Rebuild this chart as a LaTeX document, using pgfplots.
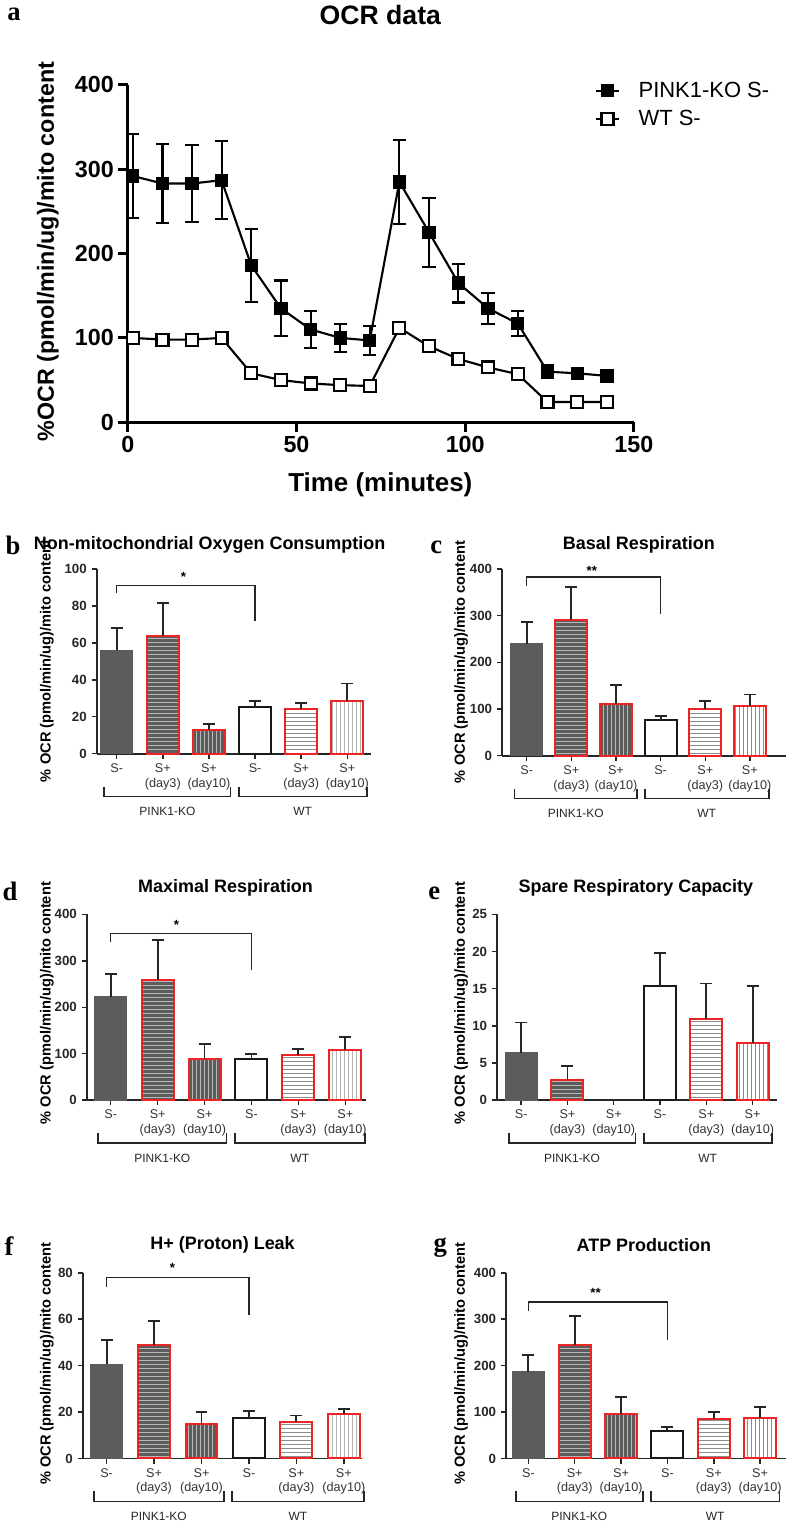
\documentclass[border=0pt]{standalone}
\usepackage{fontspec}
\setmainfont{Liberation Sans}
\newfontfamily\letterfont{Liberation Serif}
\usepackage{pgfplots}
\pgfplotsset{compat=1.18}
\usetikzlibrary{patterns}
\definecolor{kored}{RGB}{240,35,35}
\definecolor{kogray}{RGB}{92,92,92}

\pgfplotsset{
  barax/.style={
    scale only axis, anchor=south west, ymin=0, clip=false,
    axis x line=bottom, axis y line=left,
    axis line style={-, line width=1.3pt, black!85},
    xtick={0,1,2,3,4,5},
    xticklabels={S-, {S+\\(day3)}, {S+\\(day10)}, S-, {S+\\(day3)}, {S+\\(day10)}},
    x tick label style={font=\fontsize{9.5}{11}\selectfont, align=center, text=black!80},
    y tick label style={font=\bfseries\fontsize{10}{12}\selectfont, text=black!85},
    /pgf/number format/assume math mode=true,
    tick align=outside, major tick length=4pt,
    tick style={line width=1.1pt, black!85},
    ybar, bar width=24pt,
  },
  errs/.style={error bars/.cd, y dir=plus, y explicit,
    error bar style={line width=1.4pt, black!85, solid},
    error mark=-,
    error mark options={rotate=90, line width=1.4pt, black!85, mark size=4.5pt}},
  b1/.style={bar shift=0pt, fill=kogray, draw=kogray, line width=1pt, errs},
  b2/.style={bar shift=0pt, draw=kored, line width=1.5pt, pattern=horizontal lines, pattern color=black!28, preaction={fill=kogray}, errs},
  b3/.style={bar shift=0pt, draw=kored, line width=1.5pt, pattern=vertical lines, pattern color=black!28, preaction={fill=kogray}, errs},
  b4/.style={bar shift=0pt, fill=white, draw=black!90, line width=1.5pt, errs},
  b5/.style={bar shift=0pt, draw=kored, line width=1.5pt, pattern=horizontal lines, pattern color=black!45, preaction={fill=white}, errs},
  b6/.style={bar shift=0pt, draw=kored, line width=1.5pt, pattern=vertical lines, pattern color=black!45, preaction={fill=white}, errs},
}

\newcommand{\groupbr}{%
  \draw[line width=1.3pt, black!85] ([yshift=-24.75pt]axis cs:-0.27,0) -- ([yshift=-32.25pt]axis cs:-0.27,0) -- ([yshift=-32.25pt]axis cs:2.47,0) -- ([yshift=-24.75pt]axis cs:2.47,0);
  \draw[line width=1.3pt, black!85] ([yshift=-24.75pt]axis cs:2.65,0) -- ([yshift=-32.25pt]axis cs:2.65,0) -- ([yshift=-32.25pt]axis cs:5.42,0) -- ([yshift=-24.75pt]axis cs:5.42,0);
  \node[font=\fontsize{9}{11}\selectfont, text=black!85] at ([yshift=-43.5pt]axis cs:1.1,0) {PINK1-KO};
  \node[font=\fontsize{9}{11}\selectfont, text=black!85] at ([yshift=-43.5pt]axis cs:4.03,0) {WT};
}

\begin{document}
\begin{tikzpicture}
\begin{scope}[x=0.75pt,y=-0.75pt]
\path[use as bounding box] (0,0) rectangle (790,1525);
% panel letters
\node[font=\letterfont\bfseries\fontsize{20}{24}\selectfont] at (14,14) {a};
\node[font=\letterfont\bfseries\fontsize{20}{24}\selectfont] at (13,546) {b};
\node[font=\letterfont\bfseries\fontsize{20}{24}\selectfont] at (437,548) {c};
\node[font=\letterfont\bfseries\fontsize{20}{24}\selectfont] at (10,893) {d};
\node[font=\letterfont\bfseries\fontsize{20}{24}\selectfont] at (435,895) {e};
\node[font=\letterfont\bfseries\fontsize{20}{24}\selectfont] at (9,1248) {f};
\node[font=\letterfont\bfseries\fontsize{20}{24}\selectfont] at (441,1250) {g};
% panel a texts
\node[font=\bfseries\fontsize{20}{24}\selectfont] at (381,15) {OCR data};
\node[font=\bfseries\fontsize{19.5}{23}\selectfont] at (381,486) {Time (minutes)};
\node[font=\bfseries\fontsize{17.5}{21}\selectfont, rotate=90] at (48,252) {\%OCR (pmol/min/ug)/mito content};
% bar titles
\node[font=\bfseries\fontsize{13.5}{16}\selectfont] at (210,546) {Non-mitochondrial Oxygen Consumption};
\node[font=\bfseries\fontsize{13.5}{16}\selectfont] at (640,546) {Basal Respiration};
\node[font=\bfseries\fontsize{13.5}{16}\selectfont] at (226,889) {Maximal Respiration};
\node[font=\bfseries\fontsize{13.5}{16}\selectfont] at (637,889) {Spare Respiratory Capacity};
\node[font=\bfseries\fontsize{13.5}{16}\selectfont] at (223,1247) {H+ (Proton) Leak};
\node[font=\bfseries\fontsize{13.5}{16}\selectfont] at (645,1247) {ATP Production};
% bar y labels
\node[font=\bfseries\fontsize{11}{13}\selectfont, rotate=90] at (47,662) {\% OCR (pmol/min/ug)/mito content};
\node[font=\bfseries\fontsize{11}{13}\selectfont, rotate=90] at (462,663) {\% OCR (pmol/min/ug)/mito content};
\node[font=\bfseries\fontsize{11}{13}\selectfont, rotate=90] at (47,1005) {\% OCR (pmol/min/ug)/mito content};
\node[font=\bfseries\fontsize{11}{13}\selectfont, rotate=90] at (462,1005) {\% OCR (pmol/min/ug)/mito content};
\node[font=\bfseries\fontsize{11}{13}\selectfont, rotate=90] at (47,1366) {\% OCR (pmol/min/ug)/mito content};
\node[font=\bfseries\fontsize{11}{13}\selectfont, rotate=90] at (462,1366) {\% OCR (pmol/min/ug)/mito content};
\end{scope}

% ---------------- panel a ----------------
\begin{axis}[
  at={(96pt,-317.25pt)}, anchor=south west, scale only axis,
  width=380.25pt, height=253.5pt,
  xmin=0, xmax=150, ymin=0, ymax=400,
  axis x line=bottom, axis y line=left,
  axis line style={-, line width=2.2pt},
  xtick={0,50,100,150}, ytick={0,100,200,300,400},
  tick align=outside, major tick length=7pt,
  tick style={line width=2.2pt, black},
  ticklabel style={font=\bfseries\fontsize{17.5}{20}\selectfont},
  /pgf/number format/assume math mode=true,
  clip=false,
  legend cell align=left,
  legend style={at={(0.915,1.025)}, anchor=north west, draw=none, fill=none,
    font=\fontsize{16.5}{20}\selectfont, row sep=4pt,
    /tikz/every odd column/.append style={column sep=12pt}},
]
\addplot[black, line width=1.6pt, mark=square*, mark size=4.5pt,
  mark options={fill=black, solid, line width=1pt},
  error bars/.cd, y dir=both, y explicit,
  error bar style={line width=1.6pt},
  error mark=-,
  error mark options={rotate=90, line width=1.6pt, mark size=5pt, black}]
coordinates {
(1.5,292) +- (0,50)
(10.3,283) +- (0,47)
(19,283) +- (0,46)
(27.8,287) +- (0,46)
(36.6,186) +- (0,43)
(45.4,135) +- (0,33)
(54.2,110) +- (0,22)
(63,100) +- (0,17)
(71.7,97) +- (0,17)
(80.5,285) +- (0,50)
(89.3,225) +- (0,41)
(98,165) +- (0,23)
(106.8,135) +- (0,18)
(115.6,117) +- (0,15)
(124.4,60) +- (0,8)
(133.2,58) +- (0,6)
(142,55) +- (0,6)
};
\addlegendentry{PINK1-KO S-}
\addplot[black, line width=1.6pt, mark=square*, mark size=4.5pt,
  mark options={fill=white, solid, line width=1.6pt}]
coordinates {
(1.5,100) (10.3,98) (19,98) (27.8,100) (36.6,58) (45.4,50) (54.2,46) (63,44) (71.7,43)
(80.5,112) (89.3,90) (98,75) (106.8,65) (115.6,57) (124.4,24) (133.2,24) (142,24)
};
\addlegendentry{WT S-}
\end{axis}

% ---------------- panel b ----------------
\begin{axis}[barax, at={(72.75pt,-566.25pt)}, width=206.25pt, height=138.75pt,
  xmin=-0.43, xmax=5.52, ymax=100, ytick={0,20,40,60,80,100}]
\addplot[b1] coordinates {(0,56) +- (0,12)};
\addplot[b2] coordinates {(1,63.5) +- (0,18)};
\addplot[b3] coordinates {(2,13) +- (0,3)};
\addplot[b4] coordinates {(3,25.5) +- (0,3)};
\addplot[b5] coordinates {(4,24) +- (0,3.5)};
\addplot[b6] coordinates {(5,28.5) +- (0,9.5)};
\draw[line width=1.1pt, black!85] (axis cs:0,87) -- (axis cs:0,91) -- (axis cs:3,91) -- (axis cs:3,72);
\node[font=\bfseries\fontsize{10}{11}\selectfont] at (axis cs:1.45,95.5) {*};
\groupbr
\end{axis}

% ---------------- panel c ----------------
\begin{axis}[barax, at={(377.25pt,-567.75pt)}, width=213pt, height=140.25pt,
  xmin=-0.55, xmax=5.8, ymax=400, ytick={0,100,200,300,400}]
\addplot[b1] coordinates {(0,240) +- (0,47)};
\addplot[b2] coordinates {(1,291) +- (0,71)};
\addplot[b3] coordinates {(2,110) +- (0,42)};
\addplot[b4] coordinates {(3,77) +- (0,8)};
\addplot[b5] coordinates {(4,100) +- (0,18)};
\addplot[b6] coordinates {(5,107) +- (0,24)};
\draw[line width=1.1pt, black!85] (axis cs:0,364) -- (axis cs:0,383) -- (axis cs:3,383) -- (axis cs:3,304);
\node[font=\bfseries\fontsize{10}{11}\selectfont] at (axis cs:1.46,396) {**};
\groupbr
\end{axis}

% ---------------- panel d ----------------
\begin{axis}[barax, at={(65.25pt,-826.5pt)}, width=210pt, height=139.5pt,
  xmin=-0.51, xmax=5.45, ymax=400, ytick={0,100,200,300,400}]
\addplot[b1] coordinates {(0,223) +- (0,48)};
\addplot[b2] coordinates {(1,259) +- (0,85)};
\addplot[b3] coordinates {(2,88) +- (0,33)};
\addplot[b4] coordinates {(3,88) +- (0,12)};
\addplot[b5] coordinates {(4,97) +- (0,13)};
\addplot[b6] coordinates {(5,108) +- (0,27)};
\draw[line width=1.1pt, black!85] (axis cs:0,341) -- (axis cs:0,359) -- (axis cs:3,359) -- (axis cs:3,281);
\node[font=\bfseries\fontsize{10}{11}\selectfont] at (axis cs:1.4,378) {*};
\groupbr
\end{axis}

% ---------------- panel e ----------------
\begin{axis}[barax, at={(373.5pt,-826.5pt)}, width=210pt, height=139.5pt,
  xmin=-0.52, xmax=5.52, ymax=25, ytick={0,5,10,15,20,25}]
\addplot[b1] coordinates {(0,6.4) +- (0,4.05)};
\addplot[b2] coordinates {(1,2.65) +- (0,1.95)};
\addplot[b4] coordinates {(3,15.3) +- (0,4.5)};
\addplot[b5] coordinates {(4,10.9) +- (0,4.8)};
\addplot[b6] coordinates {(5,7.7) +- (0,7.7)};
\groupbr
\end{axis}

% ---------------- panel f ----------------
\begin{axis}[barax, at={(62.25pt,-1095.75pt)}, width=210pt, height=139.5pt,
  xmin=-0.5, xmax=5.39, ymax=80, ytick={0,20,40,60,80}]
\addplot[b1] coordinates {(0,40.5) +- (0,10.5)};
\addplot[b2] coordinates {(1,48.8) +- (0,10.4)};
\addplot[b3] coordinates {(2,15) +- (0,5.1)};
\addplot[b4] coordinates {(3,17.5) +- (0,2.9)};
\addplot[b5] coordinates {(4,15.7) +- (0,2.8)};
\addplot[b6] coordinates {(5,19.3) +- (0,2.1)};
\draw[line width=1.1pt, black!85] (axis cs:0,74) -- (axis cs:0,78) -- (axis cs:3,78) -- (axis cs:3,62);
\node[font=\bfseries\fontsize{10}{11}\selectfont] at (axis cs:1.39,82) {*};
\groupbr
\end{axis}

% ---------------- panel g ----------------
\begin{axis}[barax, at={(380.25pt,-1095.75pt)}, width=210pt, height=139.5pt,
  xmin=-0.48, xmax=5.55, ymax=400, ytick={0,100,200,300,400}]
\addplot[b1] coordinates {(0,186) +- (0,37)};
\addplot[b2] coordinates {(1,243.5) +- (0,63.5)};
\addplot[b3] coordinates {(2,95) +- (0,38)};
\addplot[b4] coordinates {(3,59) +- (0,9)};
\addplot[b5] coordinates {(4,85.5) +- (0,15)};
\addplot[b6] coordinates {(5,88) +- (0,23)};
\draw[line width=1.1pt, black!85] (axis cs:0,318) -- (axis cs:0,337) -- (axis cs:3,337) -- (axis cs:3,256);
\node[font=\bfseries\fontsize{10}{11}\selectfont] at (axis cs:1.45,357) {**};
\groupbr
\end{axis}
\end{tikzpicture}
\end{document}
